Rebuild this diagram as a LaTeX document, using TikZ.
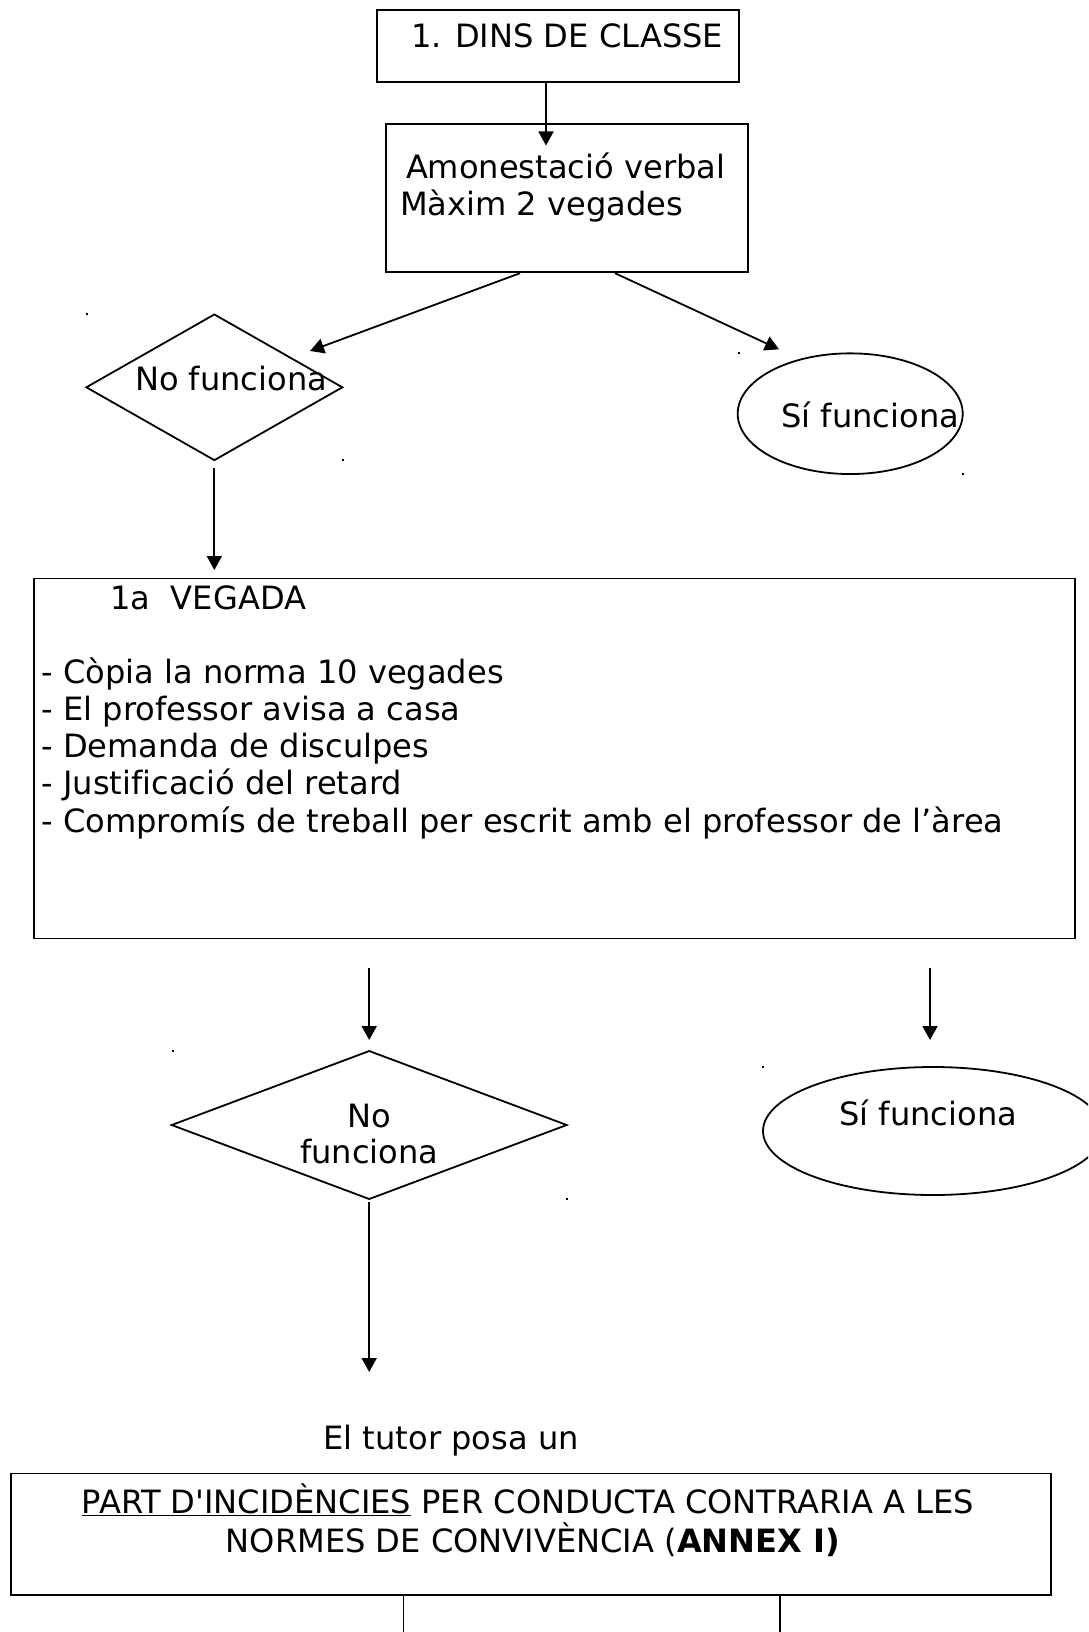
\documentclass[tikz,border=0pt]{standalone}
\usepackage{fontspec}
\setmainfont{DejaVu Sans}[Ligatures={TeXOff,CommonOff}]
\usetikzlibrary{shapes.geometric,arrows.meta,calc}
\begin{document}
\begin{tikzpicture}[x=1pt,y=-1pt,
  every node/.style={inner sep=0pt, outer sep=0pt},
  boxshape/.style={draw, rectangle, line width=1.8pt},
  decshape/.style={draw, diamond, line width=1.8pt},
  ellshape/.style={draw, ellipse, line width=1.8pt},
  txt/.style={anchor=base west, font=\fontsize{32.1}{37.3}\selectfont},
  ctxt/.style={anchor=base, font=\fontsize{32.1}{37.3}\selectfont},
  arr/.style={line width=1.8pt, -{Triangle[length=14pt,width=15pt]}},
  conn/.style={line width=1.8pt},
  dotmark/.style={fill, rectangle, minimum size=2pt}
]
\useasboundingbox (0,0) rectangle (1088,1632);
\clip (0,0) rectangle (1088,1632);
\fill[white] (0,0) rectangle (1088,1632);

% shapes
\node[boxshape, minimum width=361.7pt, minimum height=72.3pt] (box1) at (558.2,46.2) {};
\node[boxshape, minimum width=361.7pt, minimum height=147.7pt] (box2) at (566.85,197.85) {};
\node[decshape, minimum width=256pt, minimum height=145.7pt] (dia1) at (214.35,387.3) {};
\node[ellshape, minimum width=225pt, minimum height=120.7pt] (ell1) at (850.2,413.7) {};
\node[boxshape, minimum width=1041pt, minimum height=360pt] (bigbox) at (554.5,758.5) {};
\node[decshape, minimum width=395pt, minimum height=148pt] (dia2) at (369.2,1125) {};
\node[ellshape, minimum width=340pt, minimum height=128pt] (ell2) at (933,1131) {};
\node[boxshape, minimum width=1040pt, minimum height=121.5pt] (box3) at (531,1534.3) {};

% texts
\node[txt] (tbox1) at (411,48) {1. DINS DE CLASSE};
\node[txt] (tam1) at (406,178.3) {Amonestació verbal};
\node[txt] (tam2) at (400,215.7) {Màxim 2 vegades};
\node[txt] (tno1) at (135,390) {No funciona};
\node[txt] (tsi1) at (781.5,427.5) {Sí funciona};
\node[txt] (tveg) at (110.5,609) {1a\ \ VEGADA};
\node[txt] (l1) at (41.5,683) {- Còpia la norma 10 vegades};
\node[txt] (l2) at (41.5,720.3) {- El professor avisa a casa};
\node[txt] (l3) at (41.5,757.6) {- Demanda de disculpes};
\node[txt] (l4) at (41.5,794.9) {- Justificació del retard};
\node[txt] (l5) at (41.5,832.2) {- Compromís de treball per escrit amb el professor de l’àrea};
\node[ctxt] (tno2a) at (369.2,1127) {No};
\node[ctxt] (tno2b) at (369.2,1163) {funciona};
\node[txt] (tsi2) at (839.5,1125) {Sí funciona};
\node[txt] (ttutor) at (323.5,1449) {El tutor posa un};
\node[ctxt] (tp1) at (528,1513.5) {\underline{PART D'INCIDÈNCIES} PER CONDUCTA CONTRARIA A LES};
\node[ctxt] (tp2) at (533,1552) {NORMES DE CONVIVÈNCIA (\textbf{ANNEX I)}};

% small dots
\node[dotmark] (d1) at (86.7,314) {};
\node[dotmark] (d2) at (343.3,460) {};
\node[dotmark] (d3) at (739.3,353.3) {};
\node[dotmark] (d4) at (963.3,474) {};
\node[dotmark] (d5) at (172.7,1051) {};
\node[dotmark] (d6) at (566.7,1199) {};
\node[dotmark] (d7) at (763,1067) {};

% connector end points
\coordinate (t1) at (546,145.5);
\coordinate (t2) at (310,351);
\coordinate (t3) at (779,349.3);
\coordinate (t7) at (930,1040);
\coordinate (t8) at (369.2,1372);
\coordinate (e1) at (403.5,1640);
\coordinate (e2) at (780,1640);

% connectors
\draw[arr] (box1.south -| t1) -- (t1);
\draw[arr] ($(box2.south)+(-46.85,1.5)$) -- (t2);
\draw[arr] ($(box2.south)+(48.15,1.5)$) -- (t3);
\draw[arr] ($(dia1.south)+(0,8)$) -- ($(dia1.south |- bigbox.north)+(0,-8.5)$);
\draw[arr] ($(bigbox.south -| dia2.north)+(0,29.5)$) -- ($(dia2.north)+(0,-11)$);
\draw[arr] ($(bigbox.south -| t7)+(0,29.5)$) -- (t7);
\draw[arr] ($(dia2.south)+(0,3)$) -- (t8);
\draw[conn] (box3.south -| e1) -- (e1);
\draw[conn] (box3.south -| e2) -- (e2);
\end{tikzpicture}
\end{document}
